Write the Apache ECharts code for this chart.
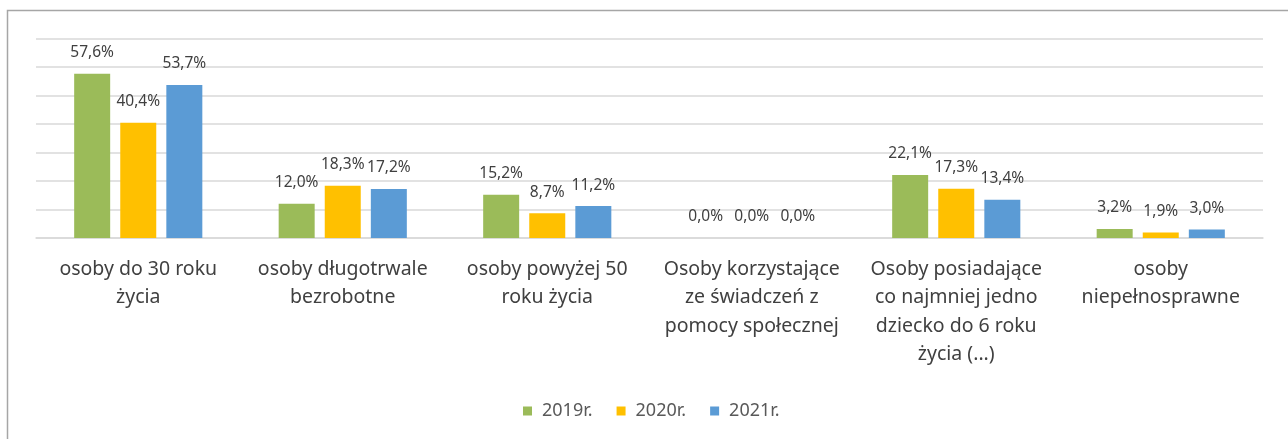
<!DOCTYPE html>
<html>
<head>
<meta charset="utf-8">
<script src="https://cdn.jsdelivr.net/npm/echarts@6/dist/echarts.min.js"></script>
<style>
  html, body { margin: 0; padding: 0; background: #fff; overflow: hidden; }
  #chart { width: 1288px; height: 439px; }
</style>
</head>
<body>
<div id="chart"></div>
<script>
const categories = [
  'osoby do 30 roku\nżycia',
  'osoby długotrwale\nbezrobotne',
  'osoby powyżej 50\nroku życia',
  'Osoby korzystające\nze świadczeń z\npomocy społecznej',
  'Osoby posiadające\nco najmniej jedno\ndziecko do 6 roku\nżycia (...)',
  'osoby\nniepełnosprawne'
];
const years = ['2019r.', '2020r.', '2021r.'];
const values2019 = [57.6, 12.0, 15.2, 0.0, 22.1, 3.2];
const values2020 = [40.4, 18.3, 8.7, 0.0, 17.3, 1.9];
const values2021 = [53.7, 17.2, 11.2, 0.0, 13.4, 3.0];
const colors = ['#9BBB59', '#FFC000', '#5B9BD5'];

const chart = echarts.init(document.getElementById('chart'));

const fmt = (p) => p.value.toFixed(1).replace('.', ',') + '%';

function makeSeries(name, data, color) {
  return {
    name,
    type: 'bar',
    data,
    barWidth: 36,
    barGap: '28%',
    itemStyle: { color },
    label: {
      show: true,
      position: 'top',
      distance: 13,
      formatter: fmt,
      fontFamily: 'Noto Sans',
      fontSize: 15.5,
      color: '#404040'
    },
    animation: false
  };
}

chart.setOption({
  backgroundColor: '#fff',
  animation: false,
  grid: { left: 36, right: 25, top: 38.5, bottom: 201 },
  legend: {
    data: years,
    left: 518,
    top: 397,
    icon: 'rect',
    itemWidth: 9,
    itemHeight: 9,
    itemGap: 24,
    textStyle: {
      fontFamily: 'Noto Sans',
      fontSize: 18,
      color: '#595959',
      padding: [0, 0, 0, 5]
    }
  },
  xAxis: {
    type: 'category',
    data: categories,
    axisTick: { show: false },
    axisLine: { lineStyle: { color: '#d9d9d9', width: 1.5 } },
    axisLabel: {
      interval: 0,
      margin: 17,
      fontFamily: 'Noto Sans',
      fontSize: 19.5,
      lineHeight: 28.5,
      color: '#404040'
    }
  },
  yAxis: {
    type: 'value',
    min: 0,
    max: 70,
    interval: 10,
    axisLabel: { show: false },
    axisLine: { show: false },
    axisTick: { show: false },
    splitLine: { lineStyle: { color: '#d9d9d9', width: 1.5 } }
  },
  graphic: [{
    type: 'polyline',
    shape: { points: [[7.5, 439], [7.5, 10.5], [1288, 10.5]] },
    style: { stroke: '#a6a6a6', lineWidth: 1.5, fill: null }
  }],
  series: [
    makeSeries(years[0], values2019, colors[0]),
    makeSeries(years[1], values2020, colors[1]),
    makeSeries(years[2], values2021, colors[2])
  ]
});
</script>
</body>
</html>
